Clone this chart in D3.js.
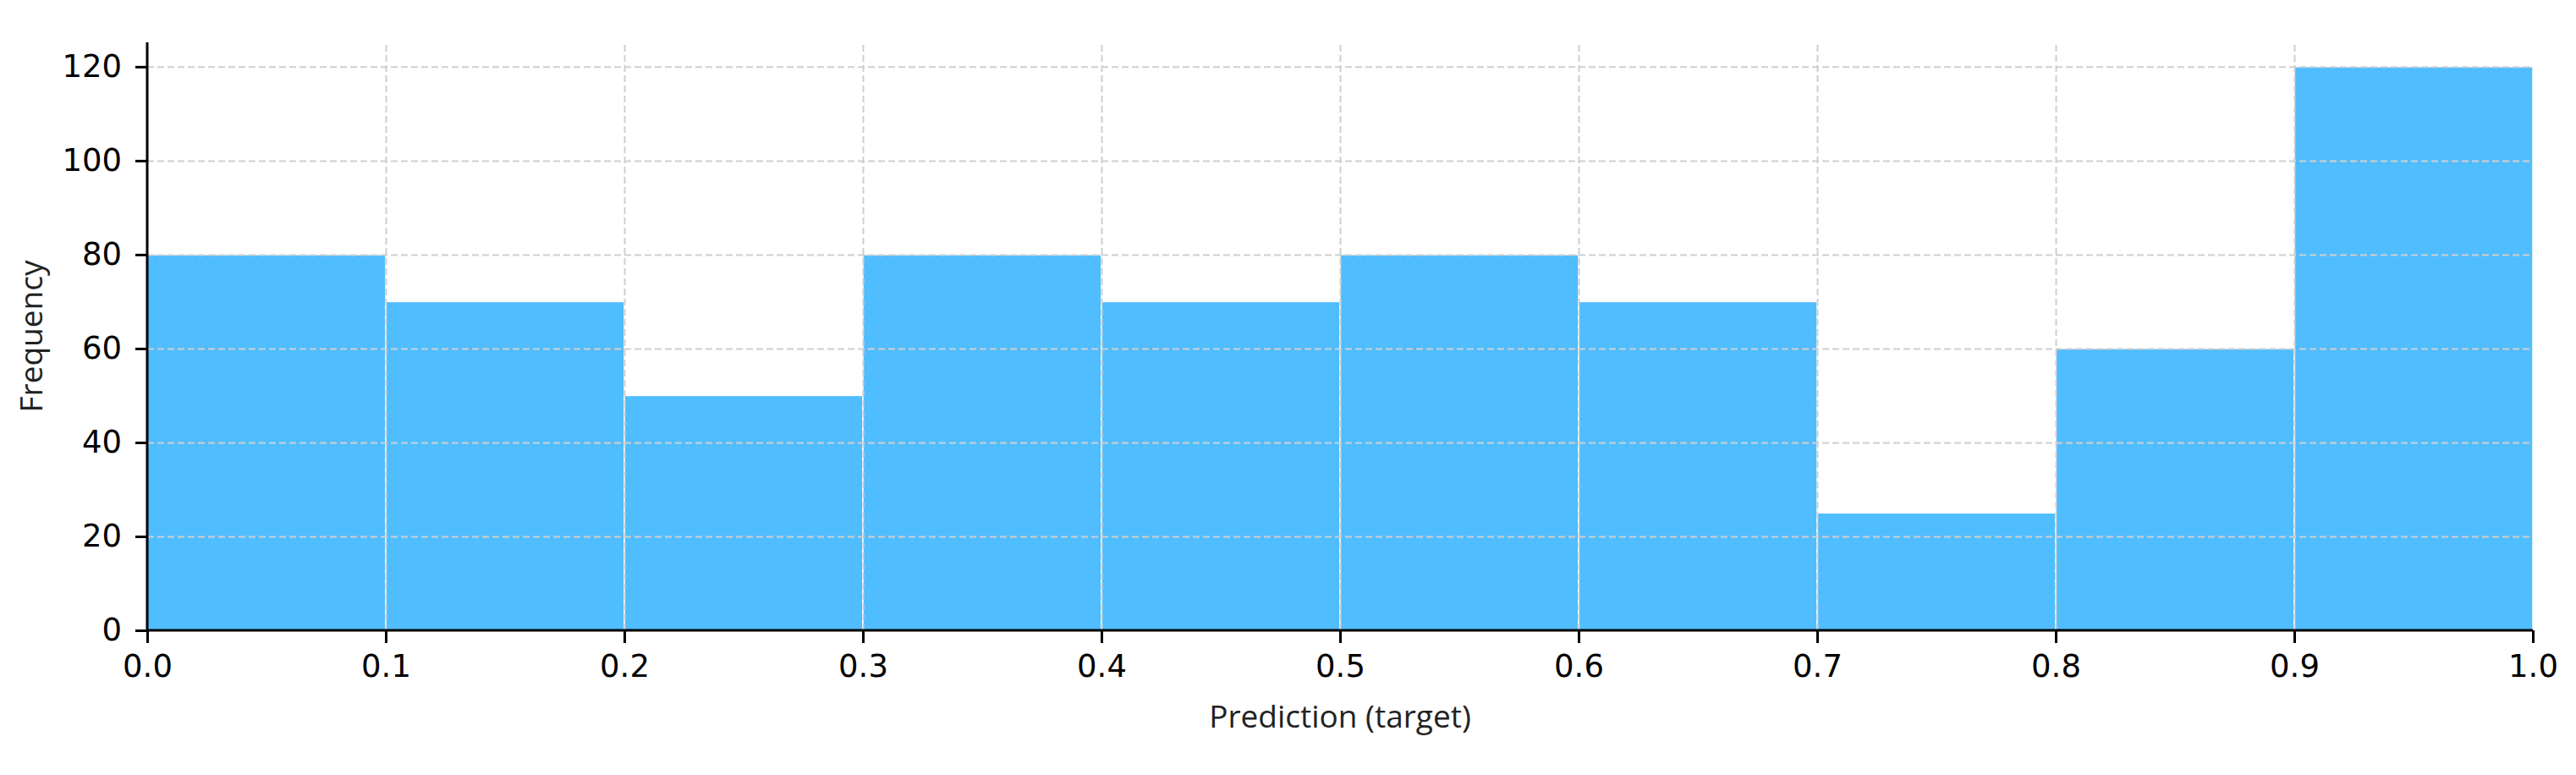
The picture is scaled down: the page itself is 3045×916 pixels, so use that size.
<!DOCTYPE html>
<html lang="en">
<head>
    <meta charset="UTF-8">
    <title>Prediction histogram</title>
    <script src="https://d3js.org/d3.v7.min.js"></script>
    <style>
        body { margin: 0; background: #fff; }
        .bar { fill: #50bdff; stroke: #ffffff; stroke-width: 1.5; }
        .grid line { stroke: #cfcfcf; stroke-width: 2; stroke-dasharray: 8,4; }
        .grid path { display: none; }
        .axis path, .axis line { stroke: #000; stroke-width: 3; }
        .axis text { font-family: "DejaVu Sans", sans-serif; font-size: 37px; fill: #000; }
        .label { font-family: "Open Sans", sans-serif; font-size: 37px; fill: #222; }
    </style>
</head>
<body>
    <svg id="chart" width="3045" height="916"></svg>

    <script>
        // histogram bins and counts
        const binEdges = [0.0, 0.1, 0.2, 0.3, 0.4, 0.5, 0.6, 0.7, 0.8, 0.9, 1.0];
        const counts = [80, 70, 50, 80, 70, 80, 70, 25, 60, 120];
        const xTicks = [0.0, 0.1, 0.2, 0.3, 0.4, 0.5, 0.6, 0.7, 0.8, 0.9, 1.0];
        const yTicks = [0, 20, 40, 60, 80, 100, 120];

        const bins = counts.map((c, i) => ({x0: binEdges[i], x1: binEdges[i + 1], count: c}));

        const margin = {top: 50, right: 51, bottom: 171, left: 174};
        const width = 3045 - margin.left - margin.right;
        const height = 916 - margin.top - margin.bottom;

        const svg = d3.select("#chart").append("g")
            .attr("transform", `translate(${margin.left},${margin.top})`);

        const x = d3.scaleLinear().domain([0, 1]).range([0, width]);
        const y = d3.scaleLinear().domain([0, 125.2]).range([height, 0]);

        // bars
        svg.selectAll(".bar")
            .data(bins)
            .enter().append("rect")
            .attr("class", "bar")
            .attr("x", d => x(d.x0))
            .attr("y", d => y(d.count))
            .attr("width", d => x(d.x1) - x(d.x0))
            .attr("height", d => height - y(d.count));

        // dashed grid on top of bars
        svg.append("g").attr("class", "grid")
            .attr("transform", `translate(0,${height})`)
            .call(d3.axisBottom(x).tickValues(xTicks.slice(1, -1)).tickSize(-height).tickFormat(""));
        svg.append("g").attr("class", "grid")
            .call(d3.axisLeft(y).tickValues(yTicks.slice(1)).tickSize(-width).tickFormat(""));

        // axes
        const xAxis = svg.append("g").attr("class", "axis")
            .attr("transform", `translate(0,${height})`)
            .call(d3.axisBottom(x).tickValues(xTicks).tickSize(15).tickPadding(14).tickFormat(d3.format(".1f")));
        const yAxis = svg.append("g").attr("class", "axis")
            .call(d3.axisLeft(y).tickValues(yTicks).tickSize(14).tickPadding(16));

        // only left and bottom spines
        xAxis.select(".domain").attr("d", `M0,0H${width}`);
        yAxis.select(".domain").attr("d", `M0,${height}V0`);

        // axis labels
        svg.append("text").attr("class", "label")
            .attr("x", width / 2)
            .attr("y", height + 115)
            .attr("text-anchor", "middle")
            .text("Prediction (target)");

        svg.append("text").attr("class", "label")
            .attr("transform", `translate(${-124},${height / 2}) rotate(-90)`)
            .attr("text-anchor", "middle")
            .text("Frequency");
    </script>
</body>
</html>
